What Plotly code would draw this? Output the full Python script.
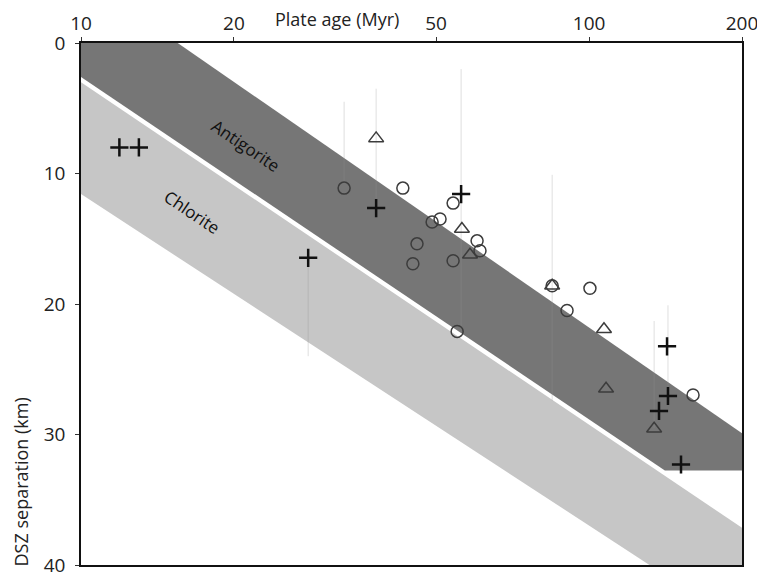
import math
import plotly.graph_objects as go

# ---- data ----
# Antigorite stability band polygon (plate age in Myr, DSZ separation in km)
antigorite_age = [10, 15.5, 200, 200, 141, 10]
antigorite_depth = [0, 0, 29.9, 32.76, 32.76, 2.6]
# Chlorite stability band polygon
chlorite_age = [10, 200, 200, 131.5, 10]
chlorite_depth = [3.0, 37.15, 40, 40, 11.58]

# Observations
cross_age = [11.9, 13.0, 28.0, 38.1, 56.0, 142.4, 143.0, 137.3, 151.7]
cross_depth = [8.0, 8.0, 16.46, 12.65, 11.58, 23.24, 27.05, 28.19, 32.3]

tri_age = [38.1, 56.2, 58.3, 84.6, 107.0, 108.0, 134.3]
tri_depth = [7.31, 14.25, 16.23, 18.6, 21.94, 26.5, 29.56]

circ_age = [32.95, 43.0, 54.0, 49.1, 50.9, 45.85, 45.0, 54.0, 60.2, 61.0,
            55.0, 84.6, 100.4, 90.5, 160.2]
circ_depth = [11.12, 11.12, 12.27, 13.71, 13.49, 15.39, 16.91, 16.69, 15.16, 15.92,
              22.1, 18.6, 18.8, 20.5, 26.97]

# faint uncertainty ranges (vertical)
range_age = [28.0, 32.95, 38.1, 56.0, 84.6, 134.3, 143.0]
range_top = [16.5, 4.5, 3.5, 2.0, 10.1, 21.3, 20.1]
range_bottom = [24.0, 10.7, 12.7, 22.0, 27.4, 29.5, 27.0]

x_ticks = [10, 20, 50, 100, 200]
y_ticks = [0, 10, 20, 30, 40]

FONT = "Open Sans"

fig = go.Figure()

fig.add_trace(go.Scatter(x=chlorite_age, y=chlorite_depth, fill="toself",
                         fillcolor="#c6c6c6", line=dict(width=0), mode="lines",
                         hoverinfo="skip", showlegend=False))
fig.add_trace(go.Scatter(x=antigorite_age, y=antigorite_depth, fill="toself",
                         fillcolor="#767676", line=dict(width=0), mode="lines",
                         hoverinfo="skip", showlegend=False))

rx, ry = [], []
for a, t, b in zip(range_age, range_top, range_bottom):
    rx += [a, a, None]
    ry += [t, b, None]
fig.add_trace(go.Scatter(x=rx, y=ry, mode="lines",
                         line=dict(color="rgba(150,150,150,0.3)", width=1),
                         hoverinfo="skip", showlegend=False))

fig.add_trace(go.Scatter(x=circ_age, y=circ_depth, mode="markers",
                         marker=dict(symbol="circle-open", size=12, color="#3c3c3c",
                                     line=dict(color="#3c3c3c", width=1.5)),
                         showlegend=False))
fig.add_trace(go.Scatter(x=tri_age, y=tri_depth, mode="markers",
                         marker=dict(symbol="triangle-up-open", size=13, color="#3c3c3c",
                                     line=dict(color="#3c3c3c", width=1.5)),
                         showlegend=False))
fig.add_trace(go.Scatter(x=cross_age, y=cross_depth, mode="markers",
                         marker=dict(symbol="cross-thin-open", size=13, color="#111111",
                                     line=dict(color="#111111", width=2.5)),
                         showlegend=False))

fig.add_annotation(x=math.log10(21.1), y=7.85, xref="x", yref="y", text="Antigorite",
                   textangle=34, showarrow=False,
                   font=dict(family=FONT, size=17, color="#111111"))
fig.add_annotation(x=math.log10(16.6), y=12.95, xref="x", yref="y", text="Chlorite",
                   textangle=34, showarrow=False,
                   font=dict(family=FONT, size=17, color="#111111"))

fig.add_annotation(x=0.387, y=1.046, xref="paper", yref="paper", text="Plate age (Myr)",
                   showarrow=False, xanchor="center", yanchor="middle",
                   font=dict(family=FONT, size=18, color="#222222"))
fig.add_annotation(x=-0.0908, y=0.16, xref="paper", yref="paper", text="DSZ separation (km)",
                   textangle=-90, showarrow=False, xanchor="center", yanchor="middle",
                   font=dict(family=FONT, size=18, color="#222222"))

fig.update_xaxes(type="log", range=[1, math.log10(200)], side="top",
                 tickvals=x_ticks, ticktext=[str(v) for v in x_ticks],
                 ticks="outside", ticklen=4, tickcolor="#333", automargin=False,
                 ticklabeloverflow="allow",
                 showline=True, linecolor="#111", linewidth=1.5, mirror=True,
                 showgrid=False, zeroline=False,
                 tickfont=dict(family=FONT, size=19, color="#222222"))
fig.update_yaxes(range=[40, 0], tickvals=y_ticks, automargin=False,
                 ticklabeloverflow="allow",
                 ticks="outside", ticklen=4, tickcolor="#333",
                 showline=True, linecolor="#111", linewidth=1.5, mirror=True,
                 showgrid=False, zeroline=False, ticklabelstandoff=6,
                 tickfont=dict(family=FONT, size=19, color="#222222"))

fig.update_layout(width=757, height=578, autosize=False,
                  margin=dict(l=81, r=15, t=43, b=13),
                  plot_bgcolor="white", paper_bgcolor="white",
                  showlegend=False)

fig.write_html("out.html")
